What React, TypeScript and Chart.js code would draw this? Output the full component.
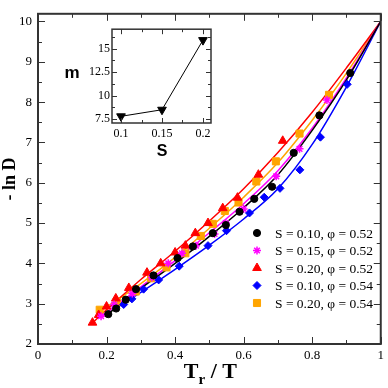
import React, { useEffect, useRef } from 'react';
import { Chart, registerables } from 'chart.js';
import { drawPoint } from 'chart.js/helpers';
Chart.register(...registerables);

// ---- main data (Tr/T, -ln D) ----
const blackX = [0.205, 0.228, 0.256, 0.286, 0.337, 0.407, 0.452, 0.51, 0.548, 0.588, 0.631, 0.683, 0.746, 0.821, 0.911];
const blackY = [2.74, 2.88, 3.1, 3.36, 3.7, 4.13, 4.42, 4.75, 4.95, 5.28, 5.6, 5.9, 6.74, 7.67, 8.72];
const magentaX = [0.184, 0.222, 0.275, 0.332, 0.38, 0.42, 0.461, 0.515, 0.548, 0.6, 0.695, 0.763, 0.843];
const magentaY = [2.69, 2.98, 3.25, 3.65, 4.0, 4.25, 4.44, 4.73, 5.0, 5.35, 6.16, 6.84, 8.05];
const redX = [0.159, 0.177, 0.2, 0.227, 0.265, 0.318, 0.358, 0.4, 0.43, 0.459, 0.496, 0.539, 0.582, 0.643, 0.714];
const redY = [2.53, 2.72, 2.93, 3.13, 3.39, 3.77, 4.0, 4.27, 4.44, 4.75, 5.0, 5.37, 5.63, 6.2, 7.04];
const blueX = [0.25, 0.274, 0.308, 0.352, 0.412, 0.496, 0.55, 0.617, 0.66, 0.706, 0.764, 0.824, 0.902];
const blueY = [2.98, 3.12, 3.36, 3.59, 3.93, 4.44, 4.81, 5.25, 5.64, 5.86, 6.32, 7.13, 8.44];
const orangeX = [0.18, 0.23, 0.285, 0.33, 0.375, 0.43, 0.475, 0.51, 0.545, 0.585, 0.637, 0.694, 0.763, 0.849];
const orangeY = [2.85, 3.05, 3.3, 3.63, 3.9, 4.25, 4.68, 4.98, 5.3, 5.51, 6.03, 6.53, 7.22, 8.18];

// ---- fit curves ----
const blackFitX = [0.2, 0.3, 0.4, 0.5, 0.6, 0.7, 0.8, 0.9, 1];
const blackFitY = [2.72, 3.38, 4.0, 4.67, 5.38, 6.2, 7.3, 8.55, 10];
const magentaFitX = [0.185, 0.3, 0.4, 0.5, 0.6, 0.7, 0.8, 0.9, 1];
const magentaFitY = [2.68, 3.42, 4.07, 4.76, 5.48, 6.3, 7.35, 8.6, 10];
const redFitX = [0.16, 0.2, 0.3, 0.4, 0.5, 0.6, 0.7, 0.8, 0.9, 1];
const redFitY = [2.53, 2.85, 3.6, 4.3, 5.05, 5.85, 6.75, 7.75, 8.85, 10];
const blueFitX = [0.22, 0.3, 0.4, 0.5, 0.6, 0.7, 0.8, 0.9, 1];
const blueFitY = [2.85, 3.28, 3.85, 4.45, 5.1, 5.85, 6.95, 8.38, 10];
const orangeFitX = [0.18, 0.3, 0.4, 0.5, 0.6, 0.7, 0.8, 0.9, 1];
const orangeFitY = [2.8, 3.5, 4.15, 4.87, 5.64, 6.5, 7.55, 8.72, 10];

const legendLabels = [
  'S = 0.10, φ = 0.52',
  'S = 0.15, φ = 0.52',
  'S = 0.20, φ = 0.52',
  'S = 0.10, φ = 0.54',
  'S = 0.20, φ = 0.54',
];

const xTicks = [0, 0.2, 0.4, 0.6, 0.8, 1];
const xMinorTicks = [0.1, 0.3, 0.5, 0.7, 0.9];
const yTicks = [2, 3, 4, 5, 6, 7, 8, 9, 10];
const yMinorTicks = [2.5, 3.5, 4.5, 5.5, 6.5, 7.5, 8.5, 9.5];

// ---- inset data (S, m) ----
const insetS = [0.1, 0.15, 0.2];
const insetM = [7.8, 8.5, 15.9];
const insetXTicks = [0.1, 0.15, 0.2];
const insetXMinor = [0.125, 0.175];
const insetYTicks = [7.5, 10, 12.5, 15];
const insetYMinor = [8.75, 11.25, 13.75, 16.25];

const pts = (xs: number[], ys: number[]) => xs.map((x, i) => ({ x, y: ys[i] }));
const SERIF = '"Liberation Serif", "Times New Roman", serif';
const SANS = '"Liberation Sans", Arial, sans-serif';

function frameTicks(opts: any) {
  return {
    id: 'frameTicks' + opts.key,
    afterDraw(chart: any) {
      const { ctx, chartArea: a, scales } = chart;
      const xs = scales.x, ys = scales.y;
      ctx.save();
      ctx.strokeStyle = opts.color;
      ctx.lineWidth = opts.tickWidth;
      const drawX = (vals: number[], len: number) => {
        for (const v of vals) {
          const p = Math.round(xs.getPixelForValue(v)) + 0.5;
          ctx.beginPath();
          ctx.moveTo(p, a.bottom); ctx.lineTo(p, a.bottom - len);
          ctx.moveTo(p, a.top); ctx.lineTo(p, a.top + len);
          ctx.stroke();
        }
      };
      const drawY = (vals: number[], len: number) => {
        for (const v of vals) {
          const p = Math.round(ys.getPixelForValue(v)) + 0.5;
          ctx.beginPath();
          ctx.moveTo(a.left, p); ctx.lineTo(a.left + len, p);
          ctx.moveTo(a.right, p); ctx.lineTo(a.right - len, p);
          ctx.stroke();
        }
      };
      drawX(opts.xMajor, opts.majorLen);
      drawX(opts.xMinor, opts.minorLen);
      drawY(opts.yMajor, opts.majorLen);
      drawY(opts.yMinor, opts.minorLen);
      ctx.lineWidth = opts.frameWidth;
      ctx.strokeRect(a.left, a.top, a.right - a.left, a.bottom - a.top);
      ctx.restore();
      if (opts.extra) opts.extra(chart);
    },
  };
}

export default function App() {
  const mainRef = useRef<HTMLCanvasElement>(null);
  const insetRef = useRef<HTMLCanvasElement>(null);

  useEffect(() => {
    const markerSets = [
      { label: legendLabels[0], data: pts(blackX, blackY), color: '#000000', style: 'circle', r: 3.6 },
      { label: legendLabels[1], data: pts(magentaX, magentaY), color: '#ff00ff', style: 'star', r: 4 },
      { label: legendLabels[2], data: pts(redX, redY), color: '#ff0000', style: 'triangle', r: 5 },
      { label: legendLabels[3], data: pts(blueX, blueY), color: '#0000ff', style: 'rectRot', r: 4 },
      { label: legendLabels[4], data: pts(orangeX, orangeY), color: '#ffa500', style: 'rect', r: 5 },
    ];
    const fitSets = [
      { data: pts(blackFitX, blackFitY), color: '#000000' },
      { data: pts(magentaFitX, magentaFitY), color: '#ff00ff' },
      { data: pts(redFitX, redFitY), color: '#ff0000' },
      { data: pts(blueFitX, blueFitY), color: '#0000ff' },
      { data: pts(orangeFitX, orangeFitY), color: '#ffa500' },
    ];

    const datasets: any[] = [];
    fitSets.forEach((f) => {
      datasets.push({
        data: f.data,
        showLine: true,
        borderColor: f.color,
        borderWidth: 1.5,
        pointRadius: 0,
        cubicInterpolationMode: 'monotone',
        order: 2,
        isFit: true,
      });
    });
    markerSets.forEach((m) => {
      datasets.push({
        label: m.label,
        data: m.data,
        showLine: false,
        pointStyle: m.style,
        pointRadius: m.r,
        backgroundColor: m.color,
        borderColor: m.color,
        borderWidth: m.style === 'star' ? 1.5 : 1,
        order: 1,
      });
    });

    const legendPlugin = {
      id: 'customLegend',
      afterDraw(chart: any) {
        const ctx = chart.ctx;
        ctx.save();
        const sets = chart.data.datasets.filter((d: any) => !d.isFit);
        sets.forEach((d: any, i: number) => {
          const y = 233 + i * 17.5;
          ctx.fillStyle = d.backgroundColor;
          ctx.strokeStyle = d.borderColor;
          ctx.lineWidth = d.borderWidth;
          drawPoint(ctx, { pointStyle: d.pointStyle, radius: d.pointRadius, rotation: 0, borderWidth: d.borderWidth }, 257, y);
          ctx.fillStyle = '#000';
          ctx.font = '13.5px ' + SERIF;
          ctx.textBaseline = 'middle';
          ctx.textAlign = 'left';
          ctx.fillText(d.label, 275, y + 1);
        });
        // x-axis title with subscript
        const a = chart.chartArea;
        const cx = (a.left + a.right) / 2;
        const big = 'bold 22px ' + SERIF;
        const small = 'bold 15px ' + SERIF;
        ctx.textBaseline = 'alphabetic';
        ctx.font = big;
        const w1 = ctx.measureText('T').width;
        const w3 = ctx.measureText(' / T').width;
        ctx.font = small;
        const w2 = ctx.measureText('r').width;
        let x = cx - (w1 + w2 + w3) / 2 + 1;
        ctx.font = big;
        ctx.fillText('T', x, 378);
        x += w1;
        ctx.font = small;
        ctx.fillText('r', x, 384);
        x += w2;
        ctx.font = big;
        ctx.fillText(' / T', x, 378);
        ctx.restore();
      },
    };

    const main = new Chart(mainRef.current as HTMLCanvasElement, {
      type: 'scatter',
      data: { datasets },
      options: {
        animation: false,
        responsive: false,
        layout: { padding: { top: 2, right: 4, left: 0, bottom: 0 } },
        plugins: { legend: { display: false }, tooltip: { enabled: false } },
        scales: {
          x: {
            type: 'linear',
            min: 0,
            max: 1,
            grid: { display: false, drawTicks: false },
            border: { display: false },
            afterBuildTicks: (s: any) => { s.ticks = xTicks.map((v) => ({ value: v })); },
            afterFit: (s: any) => { s.height = 44; },
            ticks: {
              color: '#000',
              padding: 4,
              maxRotation: 0,
              font: { family: SERIF, size: 13 },
              callback: (v: any) => String(v),
            },
          },
          y: {
            type: 'linear',
            min: 2,
            max: 10.19,
            grid: { display: false, drawTicks: false },
            border: { display: false },
            afterBuildTicks: (s: any) => { s.ticks = yTicks.map((v) => ({ value: v })); },
            afterFit: (s: any) => { s.width = 38; },
            title: {
              display: true,
              text: '- ln D',
              color: '#000',
              padding: 0,
              font: { family: SERIF, size: 18, weight: 'bold' },
            },
            ticks: {
              color: '#000',
              padding: 6,
              font: { family: SERIF, size: 13 },
              callback: (v: any) => String(v),
            },
          },
        },
      } as any,
      plugins: [
        frameTicks({
          key: 'main', color: '#333', tickWidth: 1, frameWidth: 2,
          majorLen: 7, minorLen: 4,
          xMajor: xTicks, xMinor: xMinorTicks, yMajor: yTicks, yMinor: yMinorTicks,
        }),
        legendPlugin,
      ] as any,
    });

    const inset = new Chart(insetRef.current as HTMLCanvasElement, {
      type: 'scatter',
      data: {
        datasets: [
          {
            data: pts(insetS, insetM),
            showLine: true,
            borderColor: '#000',
            borderWidth: 1,
            pointStyle: 'triangle',
            rotation: 180,
            pointRadius: 5,
            backgroundColor: '#000',
            pointBorderColor: '#000',
          } as any,
        ],
      },
      options: {
        animation: false,
        responsive: false,
        layout: { padding: { top: 6, right: 9, left: 0, bottom: 0 } },
        plugins: { legend: { display: false }, tooltip: { enabled: false } },
        scales: {
          x: {
            type: 'linear',
            min: 0.089,
            max: 0.2098,
            grid: { display: false, drawTicks: false },
            border: { display: false },
            afterBuildTicks: (s: any) => { s.ticks = insetXTicks.map((v) => ({ value: v })); },
            afterFit: (s: any) => { s.height = 42; },
            ticks: {
              color: '#000',
              padding: 4,
              maxRotation: 0,
              font: { family: SERIF, size: 12 },
              callback: (v: any) => String(v),
            },
          },
          y: {
            type: 'linear',
            min: 7.09,
            max: 17.06,
            grid: { display: false, drawTicks: false },
            border: { display: false },
            afterBuildTicks: (s: any) => { s.ticks = insetYTicks.map((v) => ({ value: v })); },
            afterFit: (s: any) => { s.width = 52; },
            ticks: {
              color: '#000',
              padding: 2,
              font: { family: SERIF, size: 12 },
              callback: (v: any) => String(v),
            },
          },
        },
      } as any,
      plugins: [
        {
          id: 'insetBg',
          beforeDraw(chart: any) {
            const { ctx, chartArea: a } = chart;
            ctx.save();
            ctx.fillStyle = '#fff';
            ctx.fillRect(a.left, a.top, a.right - a.left, a.bottom - a.top);
            ctx.restore();
          },
        },
        frameTicks({
          key: 'inset', color: '#333', tickWidth: 1, frameWidth: 1.5,
          majorLen: 5, minorLen: 3,
          xMajor: insetXTicks, xMinor: insetXMinor, yMajor: insetYTicks, yMinor: insetYMinor,
          extra: (chart: any) => {
            const ctx = chart.ctx;
            ctx.save();
            ctx.fillStyle = '#000';
            ctx.textAlign = 'center';
            ctx.textBaseline = 'middle';
            ctx.font = 'bold 17px ' + SANS;
            ctx.fillText('m', 12, 53);
            ctx.font = 'bold 16px ' + SANS;
            ctx.fillText('S', 102, 132);
            ctx.restore();
          },
        }),
      ] as any,
    });

    return () => {
      main.destroy();
      inset.destroy();
    };
  }, []);

  return (
    <div style={{ position: 'fixed', left: 0, top: 0, width: 388, height: 388, background: '#fff' }}>
      <canvas ref={mainRef} width={388} height={388} style={{ position: 'absolute', left: 0, top: 0, width: 388, height: 388 }} />
      <canvas ref={insetRef} width={160} height={145} style={{ position: 'absolute', left: 60, top: 20, width: 160, height: 145 }} />
    </div>
  );
}
